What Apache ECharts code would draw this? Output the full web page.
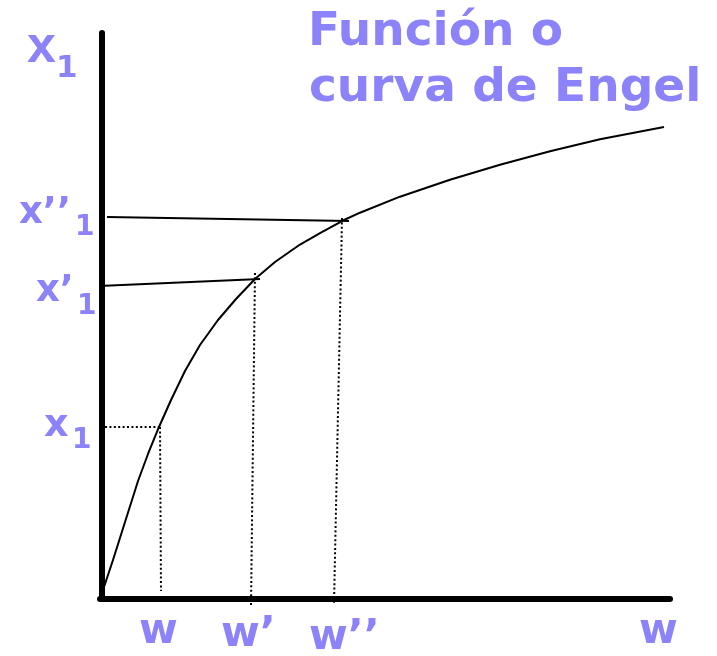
<!DOCTYPE html>
<html>
<head>
<meta charset="utf-8">
<script src="https://cdn.jsdelivr.net/npm/echarts@6/dist/echarts.min.js"></script>
<style>
  html, body { margin: 0; padding: 0; background: #ffffff; }
  #chart { width: 717px; height: 656px; }
</style>
</head>
<body>
<div id="chart"></div>
<script>
// Engel curve (w = income, x1 = quantity of good 1), axis units 0..100
const curveW  = [0, 2.28, 4.39, 6.67, 8.42, 10.35, 12.46, 14.91, 17.54, 20.70, 23.86, 27.19, 30.70, 35.09, 38.60, 42.63, 45.61, 52.63, 61.40, 70.18, 78.95, 87.72, 98.95];
const curveX1 = [0, 6.89, 13.60, 20.85, 25.62, 30.39, 35.16, 40.28, 44.88, 49.29, 53.00, 56.54, 59.54, 62.63, 64.66, 66.87, 68.25, 71.08, 74.08, 76.73, 79.12, 81.24, 83.39];

// solid connectors from the x1 axis to the curve
const lineX1pp = [[1.23, 67.49], [43.68, 66.78]];   // x''1
const lineX1p  = [[-0.53, 55.30], [28.07, 56.54]];  // x'1

// dotted guide lines
const dotX1h   = [[0.88, 30.39], [10.53, 30.39]];   // x1 level
const dotW     = [[10.53, 30.39], [10.70, 1.41]];   // w
const dotWp    = [[27.19, 57.60], [26.49, -1.41]];  // w'
const dotWpp   = [[42.46, 67.31], [41.05, -1.06]];  // w''

const titleLines = ['Función o', 'curva de Engel'];

const purple = '#8C82FA';
const labFont = 'DejaVu Sans';

function seg(data, dotted) {
  return {
    type: 'line', data: data, symbol: 'none', silent: true, clip: false,
    lineStyle: dotted ? { color: '#000', width: 2, type: [2, 2.4] }
                      : { color: '#000', width: 2 },
    z: 3
  };
}

function txt(x, y, s, size, family, extra) {
  return Object.assign({
    type: 'text', x: x, y: y, silent: true,
    style: {
      text: s, fill: purple,
      font: 'bold ' + size + 'px "' + family + '"',
      textAlign: 'left', textVerticalAlign: 'middle'
    }
  }, extra || {});
}

const chart = echarts.init(document.getElementById('chart'));
chart.setOption({
  backgroundColor: '#ffffff',
  animation: false,
  grid: { left: 100, top: 33, width: 570, height: 566 },
  xAxis: {
    type: 'value', min: 0, max: 100,
    axisLine: { show: true, onZero: false, lineStyle: { color: '#000', width: 6 } },
    axisTick: { show: false }, axisLabel: { show: false }, splitLine: { show: false }
  },
  yAxis: {
    type: 'value', min: 0, max: 100, offset: -2,
    axisLine: { show: true, onZero: false, lineStyle: { color: '#000', width: 6 } },
    axisTick: { show: false }, axisLabel: { show: false }, splitLine: { show: false }
  },
  series: [
    {
      type: 'line', data: curveW.map((w, i) => [w, curveX1[i]]),
      symbol: 'none', smooth: false, silent: true, clip: false,
      lineStyle: { color: '#000', width: 2, join: 'round' }, z: 4
    },
    seg(lineX1pp, false),
    seg(lineX1p, false),
    seg(dotX1h, true),
    seg(dotW, true),
    seg(dotWp, true),
    seg(dotWpp, true)
  ],
  graphic: [
    txt(308, 33, titleLines[0], 47, 'DejaVu Sans'),
    txt(309, 89, titleLines[1], 47, 'DejaVu Sans'),
    // top axis name x1
    txt(27, 48, 'x', 52, 'Liberation Sans'),
    txt(56, 69, '1', 31, labFont),
    // x''1
    txt(19, 213, 'x\u2019\u2019', 37, labFont),
    txt(75, 228, '1', 28, labFont),
    // x'1
    txt(36, 291, 'x\u2019', 37, labFont),
    txt(77, 307, '1', 28, labFont),
    // x1
    txt(44, 426, 'x', 38, labFont),
    txt(72, 441, '1', 28, labFont),
    // w labels
    txt(139, 632, 'w', 42, labFont),
    txt(221, 635, 'w\u2019', 42, labFont),
    txt(309, 638, 'w\u2019\u2019', 42, labFont),
    txt(639, 632, 'w', 42, labFont)
  ]
});
</script>
</body>
</html>
